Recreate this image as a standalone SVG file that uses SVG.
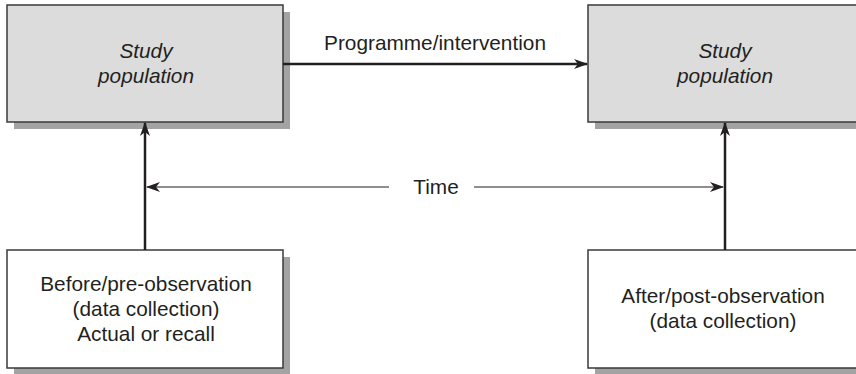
<svg xmlns="http://www.w3.org/2000/svg" width="856" height="374" viewBox="0 0 856 374">
<defs>
<marker id="ah" markerWidth="14" markerHeight="10" refX="13" refY="5" orient="auto" markerUnits="userSpaceOnUse">
<path d="M0,0 L14,5 L0,10 L4,5 Z" fill="#231f20"/>
</marker>
</defs>
<style>
.sh{fill:#a3a3a3}
.gray{fill:#dcdcdc;stroke:#3a3a3a;stroke-width:1.5}
.white{fill:#ffffff;stroke:#3a3a3a;stroke-width:1.5}
.t{font-family:"Liberation Sans",Arial,sans-serif;font-size:20.8px;fill:#231f20;text-anchor:middle}
.i{font-style:italic}
.c{stroke:#231f20;stroke-width:2.5;fill:none}
.tm{stroke:#231f20;stroke-width:1.2;fill:none}
</style>
<g id="study-before">
<rect class="sh" x="14" y="12" width="276" height="117"/>
<rect class="gray" x="7" y="5" width="276" height="117"/>
<text class="t i" x="146" y="58">Study</text>
<text class="t i" x="146" y="83">population</text>
</g>
<g id="study-after">
<rect class="sh" x="595" y="12" width="261" height="117"/>
<rect class="gray" x="588" y="5" width="270" height="117"/>
<text class="t i" x="725" y="58">Study</text>
<text class="t i" x="725" y="83">population</text>
</g>
<g id="pre-observation">
<rect class="sh" x="14" y="257" width="276" height="117"/>
<rect class="white" x="7" y="250" width="276" height="118"/>
<text class="t" x="146" y="291">Before/pre-observation</text>
<text class="t" x="146" y="316">(data collection)</text>
<text class="t" x="146" y="341">Actual or recall</text>
</g>
<g id="post-observation">
<rect class="sh" x="595" y="257" width="261" height="117"/>
<rect class="white" x="588" y="250" width="270" height="118"/>
<text class="t" x="723" y="303">After/post-observation</text>
<text class="t" x="723" y="328">(data collection)</text>
</g>
<g id="connectors">
<line class="c" x1="283" y1="64" x2="587" y2="64" marker-end="url(#ah)"/>
<text class="t" x="435" y="50">Programme/intervention</text>
<line class="c" x1="145" y1="250" x2="145" y2="123" marker-end="url(#ah)"/>
<line class="c" x1="725" y1="250" x2="725" y2="123" marker-end="url(#ah)"/>
<line class="tm" x1="389" y1="187" x2="147" y2="187" marker-end="url(#ah)"/>
<line class="tm" x1="474" y1="187" x2="723" y2="187" marker-end="url(#ah)"/>
<text class="t" x="436" y="194">Time</text>
</g>
</svg>
